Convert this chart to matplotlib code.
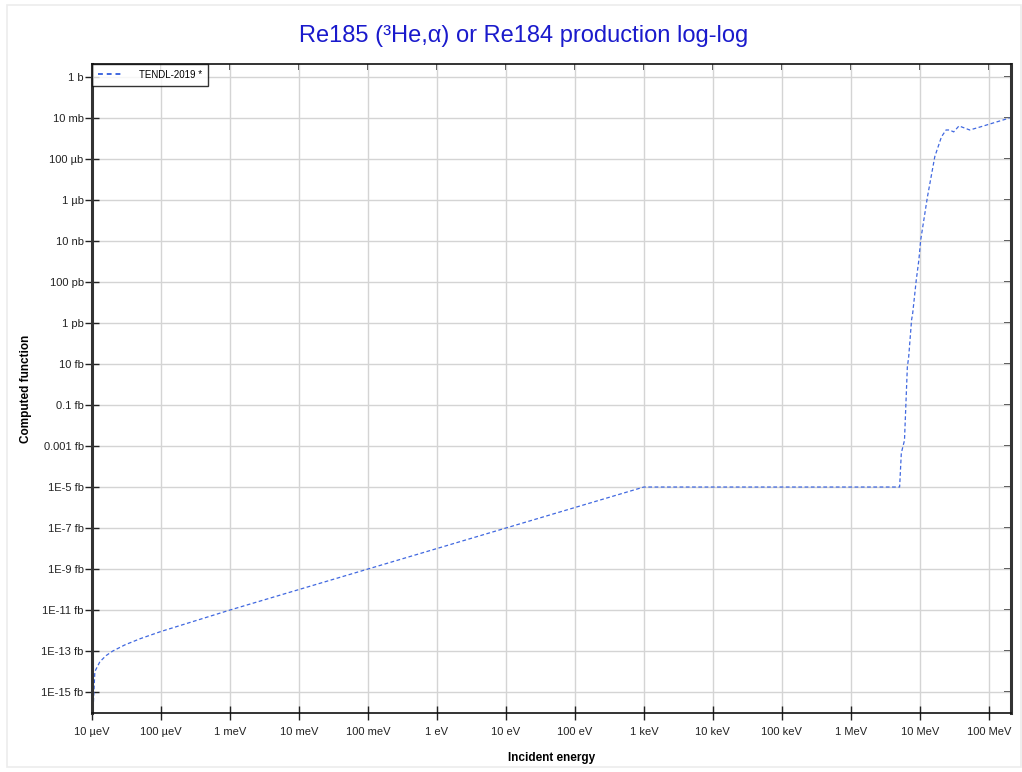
import matplotlib
matplotlib.use("Agg")
import matplotlib.pyplot as plt
from matplotlib.patches import Rectangle

plt.rcParams['font.family'] = ['Liberation Sans', 'DejaVu Sans']

# ==========================================================
# DATOS
# ==========================================================
energia_eV = [1.0e-5, 1.1e-5, 1.3e-5, 1.6e-5, 2.0e-5, 3.0e-5, 5.0e-5, 1.0e-4,
              1.0e-3, 1.0e3, 5.1e6, 5.4e6, 6.0e6, 6.6e6, 6.9e6, 7.6e6, 7.9e6,
              8.9e6, 9.7e6, 1.03e7, 1.29e7, 1.65e7, 2.06e7, 2.4e7, 2.7e7,
              3.1e7, 3.7e7, 5.3e7, 7.4e7, 2.0e8]
sigma_b = [1e-32, 1e-29, 3e-29, 6e-29, 1e-28, 2e-28, 4e-28, 9e-28,
           1e-26, 1e-20, 1e-20, 4.6e-19, 1.9e-18, 7.1e-15, 2.2e-14, 1.4e-12, 3.1e-12,
           1.3e-10, 1.2e-9, 1.1e-8, 1.4e-6, 1.3e-4, 1.2e-3, 2.6e-3, 2.6e-3,
           2.1e-3, 4.1e-3, 2.6e-3, 3.6e-3, 1.0e-2]

x_ticks = [1e-5, 1e-4, 1e-3, 1e-2, 1e-1, 1e0, 1e1, 1e2, 1e3, 1e4, 1e5, 1e6, 1e7, 1e8]
x_labels = ["10 µeV", "100 µeV", "1 meV", "10 meV", "100 meV", "1 eV", "10 eV",
            "100 eV", "1 keV", "10 keV", "100 keV", "1 MeV", "10 MeV", "100 MeV"]
y_ticks = [1e0, 1e-2, 1e-4, 1e-6, 1e-8, 1e-10, 1e-12, 1e-14, 1e-16, 1e-18,
           1e-20, 1e-22, 1e-24, 1e-26, 1e-28, 1e-30]
y_labels = ["1 b", "10 mb", "100 µb", "1 µb", "10 nb", "100 pb", "1 pb", "10 fb",
            "0.1 fb", "0.001 fb", "1E-5 fb", "1E-7 fb", "1E-9 fb", "1E-11 fb",
            "1E-13 fb", "1E-15 fb"]

fig = plt.figure(figsize=(10.22, 7.72), dpi=100)
ax = fig.add_axes([92 / 1022, 1 - 713 / 772, (1011 - 92) / 1022, (713 - 64) / 772])

# Marco exterior tenue
fig.patches.append(Rectangle((7 / 1022, 1 - 767 / 772), 1014 / 1022, 762 / 772,
                             transform=fig.transFigure, fill=False,
                             edgecolor='#ececec', linewidth=1.2))

ax.plot(energia_eV, sigma_b, linestyle=(0, (3, 2)), color='#4068e0',
        linewidth=0.9, label='TENDL-2019 *')

ax.set_xscale('log')
ax.set_yscale('log')
ax.set_xlim(1e-5, 2.1e8)
ax.set_ylim(9.5e-32, 4.3)

ax.set_xticks(x_ticks)
ax.set_xticklabels(x_labels)
ax.set_yticks(y_ticks)
ax.set_yticklabels(y_labels)
ax.minorticks_off()

# ticks abajo/izquierda cruzan el eje; arriba/derecha solo hacia dentro
ax.tick_params(axis='both', which='major', direction='inout', length=10,
               width=1, labelsize=8, colors='#222222')
ax.tick_params(axis='x', pad=5)
ax.tick_params(axis='y', pad=1)
sec_x = ax.secondary_xaxis('top')
sec_x.set_xticks(x_ticks, labels=[])
sec_x.tick_params(direction='in', length=4, width=1.2, colors='#222222')
sec_x.spines['top'].set_visible(False)
sec_y = ax.secondary_yaxis('right')
sec_y.set_yticks(y_ticks, labels=[])
sec_y.tick_params(direction='in', length=5, width=1.2, colors='#222222')
sec_y.spines['right'].set_visible(False)
for sec in (sec_x, sec_y):
    sec.minorticks_off()

ax.grid(True, color='#d4d4d4', linewidth=1)
ax.set_axisbelow(True)

for lado in ['top', 'bottom']:
    ax.spines[lado].set_linewidth(1.2)
    ax.spines[lado].set_color('#111111')
for lado in ['left', 'right']:
    ax.spines[lado].set_linewidth(2.2)
    ax.spines[lado].set_color('#333333')

ax.set_xlabel("Incident energy", fontsize=8.5, fontweight='bold', labelpad=11)
ax.set_ylabel("Computed function", fontsize=8.5, fontweight='bold', labelpad=7)

fig.text(0.512, 0.954, "Re185 (³He,α) or Re184 production log-log",
         ha='center', va='center', fontsize=17, color='#1a1acc')

leg = ax.legend(loc='upper left', fontsize=7, frameon=True, fancybox=False,
                borderaxespad=0, borderpad=0.6, handlelength=2.7,
                handletextpad=1.5)
leg.get_frame().set_edgecolor('black')
leg.get_frame().set_linewidth(1)
for linea in leg.get_lines():
    linea.set_linewidth(1.4)
    linea.set_dashes([2.5, 2.0])

plt.savefig("out.png", dpi=100)
